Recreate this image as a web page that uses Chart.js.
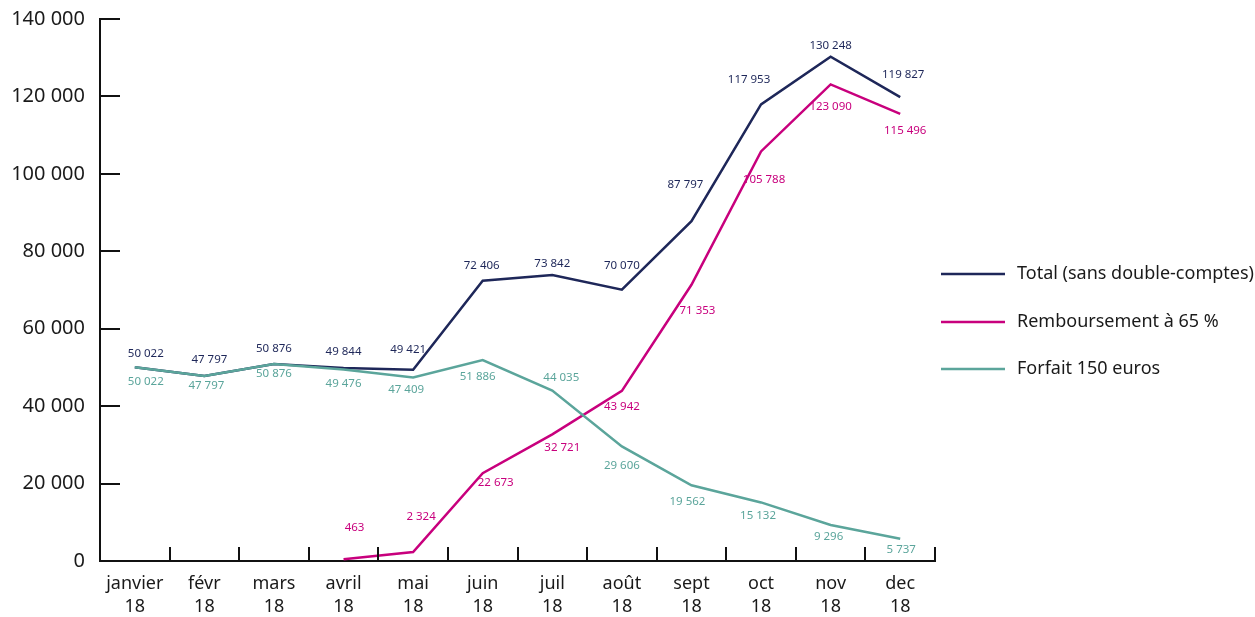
<!DOCTYPE html>
<html>
<head>
<meta charset="utf-8">
<script src="https://cdn.jsdelivr.net/npm/chart.js@4.4.1/dist/chart.umd.min.js"></script>
<style>
body{margin:0;background:#fff;}
#wrap{width:1255px;height:617px;position:relative;}
</style>
</head>
<body>
<div id="wrap"><canvas id="c"></canvas></div>
<script>
const mois=[['janvier','18'],['févr','18'],['mars','18'],['avril','18'],['mai','18'],['juin','18'],['juil','18'],['août','18'],['sept','18'],['oct','18'],['nov','18'],['dec','18']];
const total=[50022,47797,50876,49844,49421,72406,73842,70070,87797,117953,130248,119827];
const remboursement=[null,null,null,463,2324,22673,32721,43942,71353,105788,123090,115496];
const forfait=[50022,47797,50876,49476,47409,51886,44035,29606,19562,15132,9296,5737];
const seriesNames=['Total (sans double-comptes)','Remboursement à 65 %','Forfait 150 euros'];

// decalage des etiquettes [dx,dy] par point
const offTotal=[[11,-14],[5,-16],[0,-15],[0,-16],[-5,-20],[-1,-15],[0,-11],[0,-24],[-6,-36],[-12,-25],[0,-11],[3,-22]];
const offRemb=[null,null,null,[11,-31],[8,-35],[13,9],[10,13],[0,16],[6,26],[3,28],[0,22],[5,17]];
const offForf=[[11,14],[2,10],[0,10],[0,14],[-7,12],[-5,17],[9,-13],[0,19],[-4,16],[-3,13],[-2,12],[1,11]];

const NAVY='#1e2759',MAG='#c8007d',TEAL='#5ba59b';
const fmt=v=>String(v).replace(/\B(?=(\d{3})+(?!\d))/g,' ');

Chart.defaults.font.family='"Noto Sans", sans-serif';

const extras={
 id:'extras',
 afterDraw(chart){
  const ctx=chart.ctx,x=chart.scales.x,y=chart.scales.y;
  ctx.save();
  ctx.strokeStyle='#111';ctx.lineWidth=2;
  // ticks vers l'interieur
  y.ticks.forEach(t=>{let py=Math.round(y.getPixelForValue(t.value));ctx.beginPath();ctx.moveTo(x.left,py);ctx.lineTo(x.left+20,py);ctx.stroke();});
  let w=(x.right-x.left)/mois.length;
  for(let i=1;i<=mois.length;i++){let px=Math.round(x.left+i*w);ctx.beginPath();ctx.moveTo(px,y.bottom);ctx.lineTo(px,y.bottom-14);ctx.stroke();}
  // etiquettes de valeurs
  const offs=[offTotal,offRemb,offForf];
  ctx.font='11.5px "Noto Sans"';ctx.textAlign='center';ctx.textBaseline='middle';
  chart.data.datasets.forEach((ds,di)=>{
   ctx.fillStyle=ds.borderColor;
   ds.data.forEach((v,i)=>{
    if(v==null)return;
    let o=offs[di][i]||[0,0];
    ctx.fillText(fmt(v),x.getPixelForValue(i)+o[0],y.getPixelForValue(v)+o[1]);
   });
  });
  // legende
  const ly=[274,322,369];
  ctx.font='18px "Noto Sans"';ctx.textAlign='left';ctx.fillStyle='#1a1a1a';
  chart.data.datasets.forEach((ds,di)=>{
   ctx.strokeStyle=ds.borderColor;ctx.lineWidth=2.5;
   ctx.beginPath();ctx.moveTo(941,ly[di]);ctx.lineTo(1005,ly[di]);ctx.stroke();
   ctx.fillStyle='#1a1a1a';ctx.fillText(ds.label,1017,ly[di]);
  });
  ctx.restore();
 }
};

new Chart(document.getElementById('c'),{
 type:'line',
 data:{labels:mois,datasets:[
  {label:seriesNames[0],data:total,borderColor:NAVY,backgroundColor:NAVY,order:2},
  {label:seriesNames[1],data:remboursement,borderColor:MAG,backgroundColor:MAG,order:1},
  {label:seriesNames[2],data:forfait,borderColor:TEAL,backgroundColor:TEAL,order:0}
 ]},
 options:{
  responsive:true,maintainAspectRatio:false,animation:false,
  layout:{padding:{top:19,right:320,left:0,bottom:0}},
  elements:{line:{borderWidth:2.5,tension:0},point:{radius:0,hoverRadius:0}},
  plugins:{legend:{display:false},tooltip:{enabled:false}},
  scales:{
   x:{offset:true,
    grid:{drawOnChartArea:false,drawTicks:false},
    border:{display:true,color:'#111',width:2},
    ticks:{color:'#1a1a1a',font:{size:18,lineHeight:1.25},padding:12,maxRotation:0,autoSkip:false},
    afterFit:s=>{s.height=56;s.paddingLeft=0;s.paddingRight=0;}},
   y:{min:0,max:140000,
    grid:{drawOnChartArea:false,drawTicks:false},
    border:{display:true,color:'#111',width:2},
    ticks:{stepSize:20000,color:'#1a1a1a',font:{size:20},padding:15,callback:v=>fmt(v)},
    afterFit:s=>{s.width=100;s.paddingTop=0;s.paddingBottom=0;}}
  }
 },
 plugins:[extras]
});
</script>
</body>
</html>
